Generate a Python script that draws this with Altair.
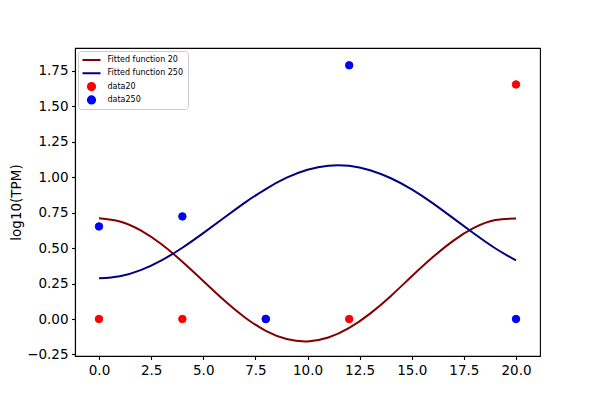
import altair as alt
import pandas as pd

# ---- data ----
x_fit = list(range(21))
fit20 = [0.710, 0.688, 0.625, 0.527, 0.404, 0.268, 0.132, 0.011, -0.083, -0.141, -0.158,
         -0.131, -0.063, 0.038, 0.163, 0.301, 0.435, 0.553, 0.644, 0.698, 0.709]
fit250 = [0.287, 0.302, 0.345, 0.414, 0.503, 0.606, 0.714, 0.821, 0.917, 0.997, 1.053,
          1.082, 1.081, 1.050, 0.993, 0.915, 0.818, 0.710, 0.601, 0.499, 0.413]
x_data = [0, 4, 8, 12, 20]
data20 = [0.0, 0.0, 0.0, 0.0, 1.655]
data250 = [0.653, 0.724, 0.0, 1.790, 0.0]

series = ["Fitted function 20", "Fitted function 250", "data20", "data250"]
colors = ["#800000", "#000080", "#ff0000", "#0000ff"]
x_ticks = [0, 2.5, 5, 7.5, 10, 12.5, 15, 17.5, 20]
y_ticks = [-0.25, 0, 0.25, 0.5, 0.75, 1.0, 1.25, 1.5, 1.75]

lines_df = pd.concat([
    pd.DataFrame({"x": x_fit, "y": fit20, "series": series[0]}),
    pd.DataFrame({"x": x_fit, "y": fit250, "series": series[1]}),
])
points_df = pd.concat([
    pd.DataFrame({"x": x_data, "y": data20, "series": series[2]}),
    pd.DataFrame({"x": x_data, "y": data250, "series": series[3]}),
])

FONT = "DejaVu Sans"
LINE_SYMBOL = "M-2.5,0H2.5"

leg = alt.Legend(
    title=None, orient="top-left", offset=3, padding=4,
    strokeColor="#cccccc", fillColor="rgba(255,255,255,0.8)", cornerRadius=3,
    labelFont=FONT, labelFontSize=8, labelColor="black", labelLimit=200,
    rowPadding=3.3, clipHeight=10, columns=1,
    symbolSize=52, symbolStrokeWidth=2, symbolOffset=4.5, labelOffset=11,
)

x_enc = alt.X("x:Q", scale=alt.Scale(domain=[-1.15, 21.15], nice=False, zero=False),
              axis=alt.Axis(values=x_ticks, format=".1f", title=None))
y_enc = alt.Y("y:Q", scale=alt.Scale(domain=[-0.261, 1.912], nice=False, zero=False),
              axis=alt.Axis(values=y_ticks, format=".2f", title="log10(TPM)",
                            titleX=-52, titleBaseline="bottom"))

stroke_scale = alt.Scale(domain=series, range=colors)

lines = alt.Chart(lines_df).mark_line(strokeWidth=2, interpolate="natural").encode(
    x=x_enc, y=y_enc,
    stroke=alt.Stroke("series:N", scale=stroke_scale, legend=leg),
)

points = alt.Chart(points_df).mark_point(filled=True, opacity=1, strokeWidth=1, size=56).encode(
    x=x_enc, y=y_enc,
    fill=alt.Fill("series:N", scale=alt.Scale(domain=series, range=colors), legend=leg),
    stroke=alt.Stroke("series:N", scale=stroke_scale, legend=leg),
    shape=alt.Shape("series:N", scale=alt.Scale(domain=series, range=[LINE_SYMBOL, LINE_SYMBOL, "circle", "circle"]), legend=leg),
)

chart = alt.layer(lines, points).properties(
    width=465, height=308,
    autosize=alt.AutoSizeParams(type="none"),
    padding={"left": 67, "top": 40, "right": 52, "bottom": 36},
).configure_view(
    stroke="black", strokeWidth=1.1
).configure_axis(
    grid=False, domainColor="black", domainWidth=1.1, tickColor="black", tickWidth=1.1,
    tickSize=3.5, labelPadding=3.5, labelFont=FONT, labelFontSize=13.5, labelColor="black",
    titleFont=FONT, titleFontSize=13.5, titleFontWeight="normal", titleColor="black",
)

chart.save("out.html", embed_options={"renderer": "svg", "actions": False})
